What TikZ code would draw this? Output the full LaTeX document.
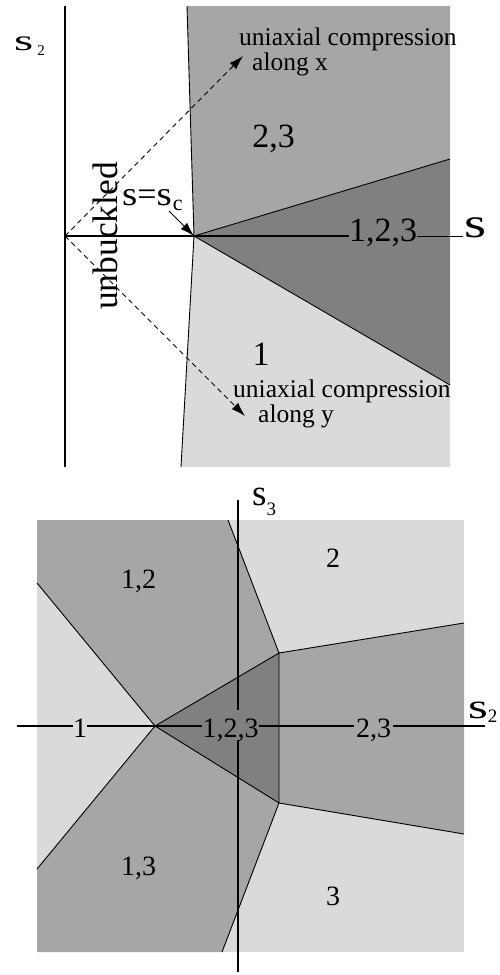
\documentclass[tikz,border=0pt]{standalone}
\usepackage{fontspec}
\setmainfont{Liberation Serif}
\usetikzlibrary{arrows.meta}
\definecolor{gdark}{gray}{0.5}
\definecolor{gmid}{gray}{0.65}
\definecolor{glight}{gray}{0.855}
\tikzset{
  lbl/.style={inner sep=0pt, anchor=base, font=\fontsize{34}{40}\selectfont},
  lbls/.style={inner ysep=0pt, inner xsep=0pt, anchor=base, font=\fontsize{28}{33}\selectfont},
  axisline/.style={line width=2.2pt},
  thinaxis/.style={line width=1pt},
  bnd/.style={line width=0.9pt},
  dasharrow/.style={line width=0.9pt, dash pattern=on 5pt off 4pt, -{Latex[length=14pt,width=9pt]}},
  solidarrow/.style={line width=1pt, -{Latex[length=14pt,width=9pt]}},
  note/.style={inner sep=0pt, anchor=base west, font=\fontsize{25.5}{30}\selectfont},
  symb/.style={inner sep=0pt, anchor=base west},
}
\begin{document}
\begin{tikzpicture}[x=1pt,y=-1pt]
\useasboundingbox (0,0) rectangle (499,975);
% ---------------- top diagram ----------------
\coordinate (O) at (65,236);
\coordinate (P) at (194,236);
\coordinate (Vt) at (65,6);
\coordinate (Vb) at (65,467);
\coordinate (Gtl) at (187,6);
\coordinate (Gbl) at (181,467);
\coordinate (Gtr) at (450,6);
\coordinate (Gbr) at (450,467);
\coordinate (R1) at (450,159);
\coordinate (R2) at (450,385);
\coordinate (Se) at (463,236);
\coordinate (Ux) at (243,56);
\coordinate (Uy) at (245,416);
\coordinate (As) at (169,211);
\fill[gmid] (Gtl) -- (Gtr) -- (R1) -- (P) -- cycle;
\fill[gdark] (P) -- (R1) -- (R2) -- cycle;
\fill[glight] (P) -- (R2) -- (Gbr) -- (Gbl) -- cycle;
\draw[bnd] (Gtl) -- (P) -- (Gbl);
\draw[bnd] (P) -- (R1);
\draw[bnd] (P) -- (R2);
\draw[axisline] (Vt) -- (Vb);
\node[lbl] (t123) at (383,241) {1,2,3};
\draw[axisline] (O) -- (O -| t123.west);
\draw[thinaxis] (O -| t123.east) -- (Se);
\node[symb] (sR) at (464,237) {\fontsize{42}{48}\selectfont\scalebox{1.35}[1]{s}};
\node[symb] (s2top) at (14,50) {\fontsize{29}{34}\selectfont\scalebox{1.7}[1]{s}\hspace{4pt}\raisebox{-5pt}{\fontsize{15}{18}\selectfont 2}};
\node[lbl] (t23) at (273.5,147) {2,3};
\node[lbl] (t1) at (261,365) {1};
\node[note] (ux1) at (239,45) {uniaxial compression};
\node[note] (ux2) at (252,70) {along x};
\node[note] (uy1) at (233,397) {uniaxial compression};
\node[note] (uy2) at (258,422) {along y};
\node[rotate=90, anchor=base, inner sep=0pt, font=\fontsize{35.5}{40}\selectfont] (unb) at (117,236) {unbuckled};
\node[symb] (ssc) at (122,205) {\fontsize{34}{40}\selectfont\scalebox{1.15}[1]{s}=\scalebox{1.15}[1]{s}\hspace{1pt}\raisebox{-5pt}{\fontsize{22}{26}\selectfont c}};
\draw[dasharrow] (O) -- (Ux);
\draw[dasharrow] (O) -- (Uy);
\draw[solidarrow] (As) -- (P);
% ---------------- bottom diagram ----------------
\coordinate (Btl) at (37,520);
\coordinate (Btr) at (464,520);
\coordinate (Bbr) at (464,952);
\coordinate (Bbl) at (37,952);
\coordinate (L) at (155,726);
\coordinate (A) at (279,653);
\coordinate (B) at (279,803);
\coordinate (T) at (228,520);
\coordinate (U) at (222,952);
\coordinate (E1) at (37,583);
\coordinate (E2) at (37,869);
\coordinate (F1) at (464,623);
\coordinate (F2) at (464,834);
\fill[glight] (Btl) rectangle (Bbr);
\fill[gmid] (Btl) -- (T) -- (A) -- (L) -- (E1) -- cycle;
\fill[gmid] (E2) -- (L) -- (B) -- (U) -- (Bbl) -- cycle;
\fill[gmid] (A) -- (F1) -- (F2) -- (B) -- cycle;
\fill[gdark] (L) -- (A) -- (B) -- cycle;
\draw[bnd] (E1) -- (L) -- (E2);
\draw[bnd] (T) -- (A) -- (F1);
\draw[bnd] (U) -- (B) -- (F2);
\draw[bnd] (L) -- (A) -- (B) -- (L);
% axes
\coordinate (axL) at (17,726);
\coordinate (axR) at (485,726);
\coordinate (s3t) at (238,500);
\coordinate (s3b) at (238,972);
\coordinate (g1) at (238,710);
\coordinate (g2) at (238,740);
\node[lbls] (b1) at (80,737) {1};
\node[lbls] (b123) at (230.5,737) {1,2,3};
\node[lbls, inner xsep=2pt] (b23) at (373.5,737) {2,3};
\draw[axisline] (axL) -- (axL -| b1.west);
\draw[axisline] (axL -| b1.east) -- (axL -| b123.west);
\draw[axisline] (axL -| b123.east) -- (axL -| b23.west);
\draw[axisline] (axL -| b23.east) -- (axR);
\draw[axisline] (s3t) -- (g1);
\draw[axisline] (g2) -- (s3b);
\node[symb] (s3lab) at (252,505) {\fontsize{37}{42}\selectfont s\raisebox{-10pt}{\fontsize{19}{22}\selectfont 3}};
\node[symb] (s2lab) at (468,718) {\fontsize{35}{40}\selectfont\scalebox{1.45}[1]{s}\raisebox{-4pt}{\fontsize{19}{22}\selectfont 2}};
\node[lbls] (b12) at (138.5,588) {1,2};
\node[lbls] (b2) at (333,567) {2};
\node[lbls] (b13) at (138.5,875) {1,3};
\node[lbls] (b3) at (333,905) {3};
\end{tikzpicture}
\end{document}
